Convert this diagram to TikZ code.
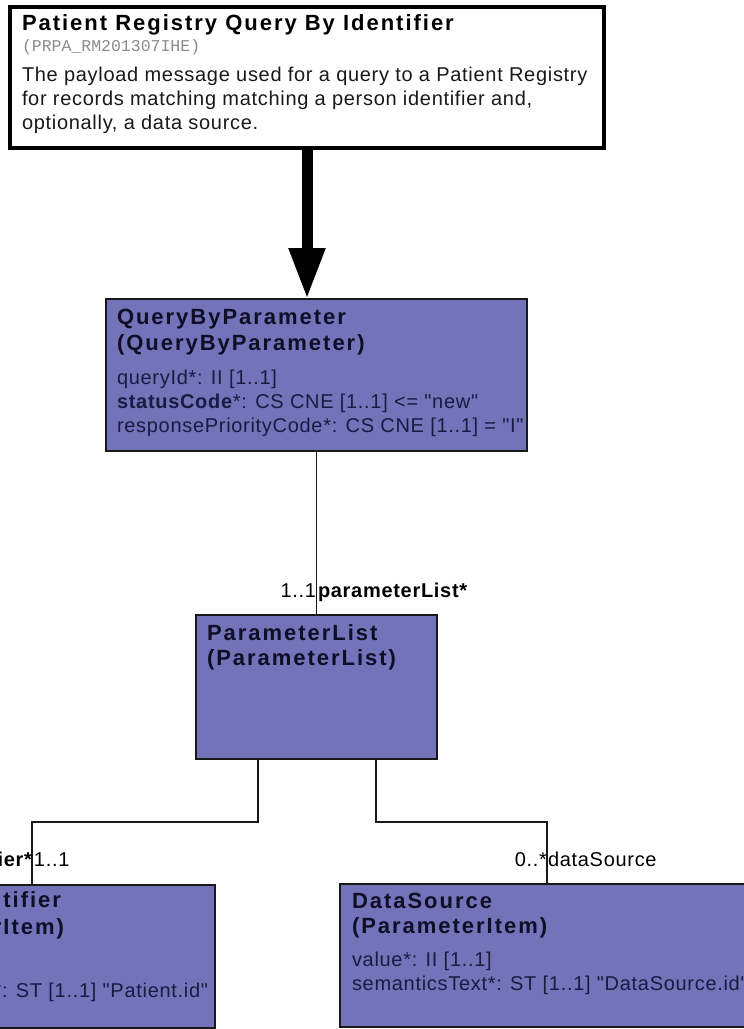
\documentclass[tikz,border=0pt]{standalone}
\usepackage{fontspec}
\setmainfont{Liberation Sans}
\newfontfamily\regf[LetterSpace=3.5]{Liberation Sans}
\newfontfamily\ttlf[LetterSpace=9]{Liberation Sans}
\newfontfamily\monof{Liberation Mono}
\usetikzlibrary{arrows.meta}
\definecolor{boxfill}{RGB}{115,115,185}
\definecolor{boxtext}{RGB}{14,14,38}
\definecolor{attrtext}{RGB}{26,26,66}
\begin{document}
\begin{tikzpicture}[x=1pt,y=-1pt,
  txt/.style={inner sep=0pt, outer sep=0pt, anchor=base west},
  ttl/.style={txt, font=\ttlf\bfseries\fontsize{22}{26}\selectfont, text=boxtext},
  attr/.style={txt, font=\regf\fontsize{20}{24}\selectfont, text=attrtext},
  lbl/.style={txt, font=\regf\fontsize{20}{24}\selectfont, text=black},
  lblb/.style={txt, font=\regf\bfseries\fontsize{20}{24}\selectfont, text=black},
  desc/.style={txt, font=\regf\fontsize{20}{24}\selectfont, text=black!90},
  cls/.style={draw=black!90, line width=1.8pt, fill=boxfill, inner sep=0pt, outer sep=0pt, anchor=north west},
  conn/.style={draw=black!90, line width=1.8pt}
]
\useasboundingbox (0,0) rectangle (744,1029);
\clip (0,0) rectangle (744,1029);
\fill[white] (0,0) rectangle (744,1029);

% boxes
\node[draw=black, line width=3.8pt, fill=white, inner sep=0pt, outer sep=0pt,
      minimum width=594pt, minimum height=141pt, anchor=north west] (top) at (10,7) {};
\node[cls, minimum width=421pt, minimum height=152pt] (qbp) at (106,299) {};
\node[cls, minimum width=241pt, minimum height=144pt] (pl) at (196,615) {};
\node[cls, minimum width=385pt, minimum height=143pt] (pi) at (-170,885) {};
\node[cls, minimum width=420pt, minimum height=143pt] (ds) at (340,884) {};

% connectors
\draw[line width=11pt, -{Triangle[width=34pt,length=51pt]}] (top.south) -- (top.south |- qbp.north);
\draw[conn] (qbp.south) -- (pl.north);
\draw[conn] ([xshift=62pt]pl.south west) -- ++(0,63) -| ([xshift=-183pt]pi.north east);
\draw[conn] ([xshift=-61pt]pl.south east) -- ++(0,63) -| ([xshift=207pt]ds.north west);

% top box text
\node[txt, font=\ttlf\bfseries\fontsize{22}{26}\selectfont] (t1) at (22,30) {Patient Registry Query By Identifier};
\node[txt, font=\monof\fontsize{16.5}{20}\selectfont, text=black!45] (t2) at (22,51) {(PRPA\_RM201307IHE)};
\node[desc] (t3) at (22,81) {The payload message used for a query to a Patient Registry};
\node[desc] (t4) at (22,105) {for records matching matching a person identifier and,};
\node[desc] (t5) at (22,129) {optionally, a data source.};

% QueryByParameter
\node[ttl] (q1) at (117,324) {QueryByParameter};
\node[ttl] (q2) at (117,350) {(QueryByParameter)};
\node[attr] (q3) at (117,384) {queryId*: II [1..1]};
\node[attr] (q4) at (117,408) {\textbf{statusCode}*: CS CNE [1..1] <= "new"};
\node[attr] (q5) at (117,432) {responsePriorityCode*: CS CNE [1..1] = "I"};

% ParameterList
\node[ttl] (p1) at (207,640) {ParameterList};
\node[ttl] (p2) at (207,665) {(ParameterList)};

% PatientIdentifier (partly outside)
\node[ttl, anchor=base east] (i1) at (61,907) {PatientIdentifier};
\node[ttl, anchor=base east] (i2) at (64,934) {(ParameterItem)};
\node[attr, anchor=base east] (i3) at (208,997) {semanticsText*: ST [1..1] "Patient.id"};

% DataSource
\node[ttl] (d1) at (352,908) {DataSource};
\node[ttl] (d2) at (352,933) {(ParameterItem)};
\node[attr] (d3) at (352,966) {value*: II [1..1]};
\node[attr] (d4) at (352,990) {semanticsText*: ST [1..1] "DataSource.id"};

% association labels
\node[lbl, anchor=base east] (l1) at (316,597) {1..1};
\node[lblb] (l2) at (318,597) {parameterList*};
\node[lblb, anchor=base east] (l3) at (32,866) {patientIdentifier*};
\node[lbl] (l4) at (34,866) {1..1};
\node[lbl, anchor=base east] (l5) at (547,866) {0..*};
\node[lbl] (l6) at (548,866) {dataSource};
\end{tikzpicture}
\end{document}
